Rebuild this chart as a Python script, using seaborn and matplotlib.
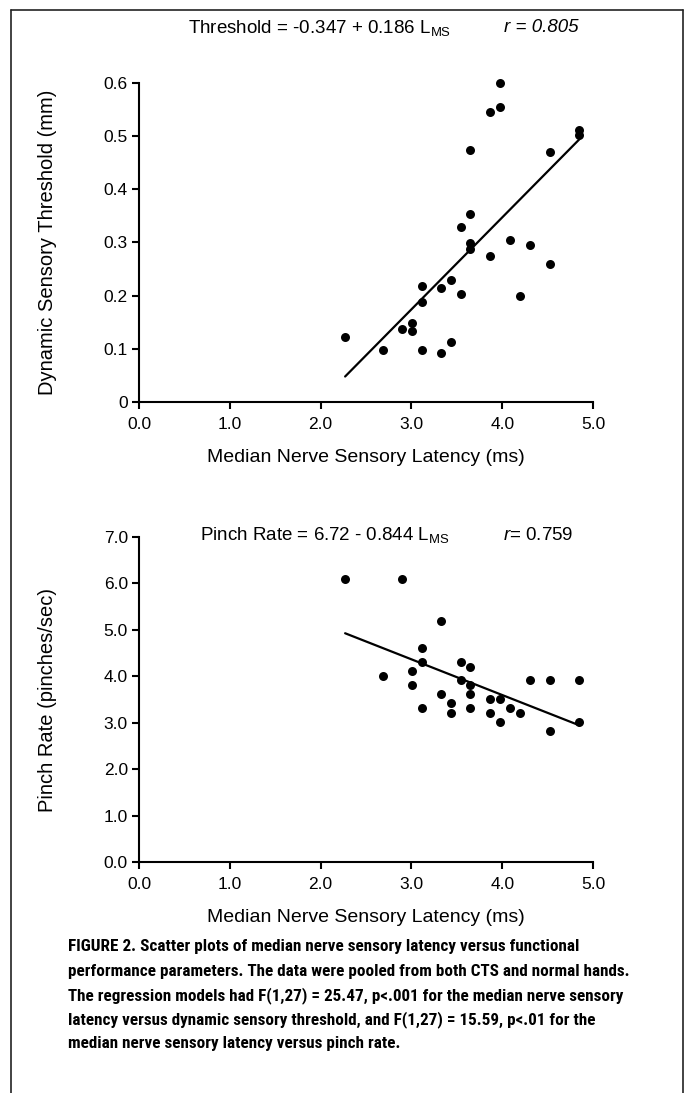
import matplotlib
matplotlib.use('Agg')
import matplotlib.pyplot as plt
import seaborn as sns
from matplotlib import font_manager
from matplotlib.lines import Line2D

# Values (latency in ms as placed on the printed axis)
thr_latency = [3.98, 3.98, 3.87, 4.85, 4.85, 3.65, 4.53, 3.65, 3.55, 3.65,
               3.65, 4.09, 4.31, 3.87, 4.53, 3.12, 3.44, 3.33, 3.55, 3.12,
               4.20, 3.01, 2.90, 3.01, 2.27, 3.44, 2.69, 3.12, 3.33]
thr_value = [0.600, 0.554, 0.545, 0.512, 0.502, 0.474, 0.470, 0.354, 0.330, 0.299,
             0.288, 0.305, 0.295, 0.274, 0.259, 0.219, 0.229, 0.214, 0.204, 0.189,
             0.199, 0.148, 0.138, 0.133, 0.122, 0.113, 0.098, 0.098, 0.093]

pinch_latency = [2.27, 2.90, 3.33, 3.12, 3.12, 3.55, 3.65, 3.01, 2.69, 3.55,
                 4.31, 4.53, 4.85, 3.01, 3.65, 3.33, 3.65, 3.87, 3.98, 3.44,
                 3.12, 3.65, 4.09, 4.20, 3.44, 3.87, 3.98, 4.85, 4.53]
pinch_rate = [6.09, 6.09, 5.20, 4.60, 4.31, 4.31, 4.20, 4.11, 4.00, 3.92,
              3.92, 3.92, 3.92, 3.81, 3.81, 3.61, 3.61, 3.51, 3.51, 3.42,
              3.32, 3.32, 3.32, 3.22, 3.22, 3.22, 3.02, 3.02, 2.82]

x_ticks = [0, 1, 2, 3, 4, 5]
x_ticklabels = ['0.0', '1.0', '2.0', '3.0', '4.0', '5.0']
thr_ticks = [0, 0.1, 0.2, 0.3, 0.4, 0.5, 0.6]
thr_ticklabels = ['0', '0.1', '0.2', '0.3', '0.4', '0.5', '0.6']
pinch_ticks = [0, 1, 2, 3, 4, 5, 6, 7]
pinch_ticklabels = ['0.0', '1.0', '2.0', '3.0', '4.0', '5.0', '6.0', '7.0']

x_label = 'Median Nerve Sensory Latency (ms)'
caption = [
    'FIGURE 2. Scatter plots of median nerve sensory latency versus functional',
    'performance parameters. The data were pooled from both CTS and normal hands.',
    'The regression models had F(1,27) = 25.47, p<.001 for the median nerve sensory',
    'latency versus dynamic sensory threshold, and F(1,27) = 15.59, p<.01 for the',
    'median nerve sensory latency versus pinch rate.',
]

sns.set_style('ticks')
plt.rcParams['font.family'] = ['Liberation Sans', 'DejaVu Sans']
plt.rcParams['mathtext.fontset'] = 'custom'
plt.rcParams['mathtext.rm'] = 'Liberation Sans'
plt.rcParams['mathtext.it'] = 'Liberation Sans:italic'
for key in ['text.color', 'axes.labelcolor', 'xtick.color', 'ytick.color']:
    plt.rcParams[key] = 'black'

W, H = 689, 1093
fig = plt.figure(figsize=(W / 100, H / 100), dpi=100)


def px_box(left, top, right, bottom):
    # pixel box -> figure fraction rect
    return [left / W, 1 - bottom / H, (right - left) / W, (bottom - top) / H]


def style_axis(ax, yticks, yticklabels, ylim, ylabel):
    ax.set_xlim(0, 5)
    ax.set_ylim(*ylim)
    ax.set_xticks(x_ticks)
    ax.set_xticklabels(x_ticklabels)
    ax.set_yticks(yticks)
    ax.set_yticklabels(yticklabels)
    sns.despine(ax=ax)
    for side in ['left', 'bottom']:
        ax.spines[side].set_linewidth(1.5)
        ax.spines[side].set_color('black')
    ax.tick_params(axis='both', direction='out', length=5, width=1.5,
                   labelsize=12.5, pad=3)
    ax.tick_params(axis='x', pad=6)
    ax.set_xlabel(x_label, fontsize=14, labelpad=12)
    ax.set_ylabel(ylabel, fontsize=14.5)
    # y label sits well left of the tick labels in the original
    ax.yaxis.set_label_coords((57 - 139) / 454, 0.5)
    ax.set_facecolor('white')


scatter_kws = {'s': 42, 'color': 'black', 'alpha': 1, 'linewidths': 0, 'clip_on': False}
line_kws = {'color': 'black', 'linewidth': 1.6}

# top panel: dynamic sensory threshold
ax1 = fig.add_axes(px_box(139, 83, 593, 402))
sns.regplot(x=thr_latency, y=thr_value, ax=ax1, ci=None,
            scatter_kws=scatter_kws, line_kws=line_kws)
style_axis(ax1, thr_ticks, thr_ticklabels, (0, 0.6), 'Dynamic Sensory Threshold (mm)')
fig.text(188 / W, 1 - 28 / H, 'Threshold = -0.347 + 0.186 L$_{\\mathrm{MS}}$',
         fontsize=13.5, va='center', ha='left')
fig.text(578 / W, 1 - 28 / H, 'r = 0.805', fontsize=13.5, style='italic',
         va='center', ha='right')

# bottom panel: pinch rate
ax2 = fig.add_axes(px_box(139, 537, 593, 862))
sns.regplot(x=pinch_latency, y=pinch_rate, ax=ax2, ci=None,
            scatter_kws=scatter_kws, line_kws=line_kws)
style_axis(ax2, pinch_ticks, pinch_ticklabels, (0, 7), 'Pinch Rate (pinches/sec)')
fig.text(200 / W, 1 - 535 / H, 'Pinch Rate = 6.72 - 0.844 L$_{\\mathrm{MS}}$',
         fontsize=13.5, va='center', ha='left')
fig.text(573 / W, 1 - 535 / H, '$\\mathit{r}$= 0.759', fontsize=13.5,
         va='center', ha='right')


# caption: bold condensed face if one is installed, else plain bold
def caption_font():
    entries = font_manager.fontManager.ttflist
    bold = [f for f in entries if str(f.weight) in ('700', 'bold')]
    for name in ['Liberation Sans Narrow', 'Roboto Condensed', 'Open Sans Condensed']:
        for f in bold:
            if f.name == name:
                return font_manager.FontProperties(fname=f.fname)
    for f in bold:
        if f.name == 'DejaVu Sans' and 'condensed' in str(f.stretch):
            return font_manager.FontProperties(fname=f.fname)
    return font_manager.FontProperties(family='Liberation Sans', weight='bold')


cap_font = caption_font()
cap_texts = []
for i, line in enumerate(caption):
    t = fig.text(68 / W, 1 - (947 + i * 24.2) / H, line, fontproperties=cap_font,
                 fontsize=12, va='center', ha='left')
    cap_texts.append(t)

# scale the caption so its longest line reaches the right margin of the box
renderer = fig.canvas.get_renderer()
widest = max(t.get_window_extent(renderer).width for t in cap_texts)
cap_size = min(13.5, 12 * 562 / widest)
for t in cap_texts:
    t.set_fontsize(cap_size)

# frame around the figure box
frame = dict(color='#222222', linewidth=1.2, transform=fig.transFigure)
fig.add_artist(Line2D([11 / W, 683 / W], [1 - 10 / H, 1 - 10 / H], **frame))
fig.add_artist(Line2D([11 / W, 11 / W], [1 - 10 / H, 0], **frame))
fig.add_artist(Line2D([683 / W, 683 / W], [1 - 10 / H, 0], **frame))

fig.savefig('out.png', dpi=100, facecolor='white')
